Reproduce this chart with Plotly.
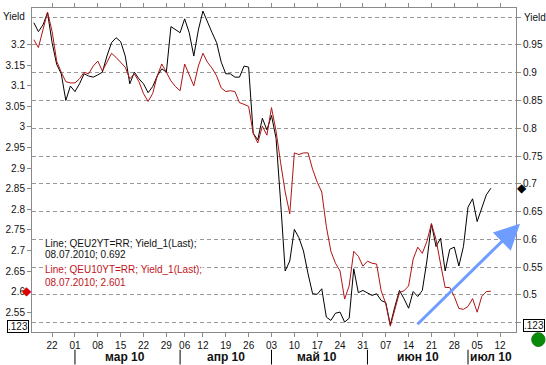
import pandas as pd
import plotly.graph_objects as go

# ---------------- data ----------------
holidays = ["2010-04-02", "2010-04-05"]
dates = [d.strftime("%Y-%m-%d") for d in pd.bdate_range("2010-02-16", "2010-07-08")
         if d.strftime("%Y-%m-%d") not in holidays]

# QEU2YT=RR (right axis, black)
yield_2y = [0.990, 0.974, 0.986, 1.008, 0.954, 0.915, 0.898, 0.850, 0.876, 0.866,
            0.880, 0.898, 0.894, 0.892, 0.896, 0.901, 0.930, 0.954, 0.963, 0.956,
            0.930, 0.880, 0.901, 0.889, 0.880, 0.864, 0.875, 0.894, 0.907, 0.901,
            0.983, 0.977, 0.972, 0.997, 0.972, 0.930, 0.977, 1.011, 0.990, 0.972,
            0.954, 0.919, 0.898, 0.898, 0.892, 0.892, 0.912, 0.910, 0.791, 0.779,
            0.818, 0.797, 0.823, 0.782, 0.667, 0.543, 0.561, 0.618, 0.603, 0.579,
            0.538, 0.502, 0.501, 0.511, 0.460, 0.454, 0.467, 0.469, 0.451, 0.458,
            0.547, 0.504, 0.508, 0.504, 0.499, 0.502, 0.490, 0.486, 0.446, 0.479,
            0.508, 0.493, 0.476, 0.506, 0.497, 0.508, 0.561, 0.628, 0.587, 0.602,
            0.543, 0.582, 0.586, 0.552, 0.587, 0.658, 0.673, 0.632, 0.658, 0.680,
            0.692]

# QEU10YT=RR (left axis, red)
yield_10y = [3.212, 3.193, 3.236, 3.279, 3.232, 3.160, 3.133, 3.110, 3.107, 3.107,
             3.117, 3.133, 3.129, 3.148, 3.160, 3.136, 3.157, 3.179, 3.169, 3.157,
             3.145, 3.117, 3.129, 3.110, 3.081, 3.062, 3.081, 3.124, 3.153, 3.133,
             3.112, 3.098, 3.088, 3.153, 3.124, 3.100, 3.148, 3.179, 3.157, 3.143,
             3.124, 3.095, 3.086, 3.088, 3.086, 3.059, 3.055, 3.050, 2.985, 2.961,
             3.002, 2.980, 3.047, 2.990, 2.913, 2.842, 2.789, 2.937, 2.933, 2.937,
             2.937, 2.897, 2.866, 2.842, 2.758, 2.698, 2.669, 2.650, 2.582, 2.614,
             2.698, 2.686, 2.662, 2.674, 2.669, 2.667, 2.602, 2.571, 2.516, 2.559,
             2.598, 2.602, 2.614, 2.679, 2.708, 2.693, 2.722, 2.765, 2.727, 2.667,
             2.610, 2.610, 2.588, 2.559, 2.557, 2.564, 2.583, 2.550, 2.588, 2.600,
             2.601]

week_ticks = ["2010-02-22", "2010-03-01", "2010-03-08", "2010-03-15", "2010-03-22",
              "2010-03-29", "2010-04-06", "2010-04-12", "2010-04-19", "2010-04-26",
              "2010-05-03", "2010-05-10", "2010-05-17", "2010-05-24", "2010-05-31",
              "2010-06-07", "2010-06-14", "2010-06-21", "2010-06-28", "2010-07-05",
              "2010-07-12"]
week_labels = ["22", "01", "08", "15", "22", "29", "06", "12", "19", "26", "03",
               "10", "17", "24", "31", "07", "14", "21", "28", "05", "12"]

month_starts = ["2010-03-01", "2010-04-01", "2010-05-03", "2010-06-01", "2010-07-01"]
month_labels = ["мар 10", "апр 10", "май 10", "июн 10", "июл 10"]
month_label_at = ["2010-03-16", "2010-04-19", "2010-05-17", "2010-06-16", "2010-07-08"]

left_ticks = [2.55, 2.6, 2.65, 2.7, 2.75, 2.8, 2.85, 2.9, 2.95, 3.0, 3.05, 3.1, 3.15, 3.2]
left_labels = ["2.55", "2.6", "2.65", "2.7", "2.75", "2.8", "2.85", "2.9", "2.95", "3",
               "3.05", "3.1", "3.15", "3.2"]
right_ticks = [0.45, 0.5, 0.55, 0.6, 0.65, 0.7, 0.75, 0.8, 0.85, 0.9, 0.95, 1.0]
right_labels = ["", "0.5", "0.55", "0.6", "0.65", "0.7", "0.75", "0.8", "0.85", "0.9", "0.95", ""]

legend_lines = ["Line; QEU2YT=RR; Yield_1(Last);", "08.07.2010; 0.692",
                "Line; QEU10YT=RR; Yield_1(Last);", "08.07.2010; 2.601"]

# ---------------- style ----------------
RED = "#b01414"
RED_TXT = "#c0141c"
AX = "#8a8a8a"
FONT = "Liberation Sans, Arial, sans-serif"

fig = go.Figure()
fig.add_trace(go.Scatter(x=dates, y=yield_2y, yaxis="y", mode="lines",
                         line=dict(color="black", width=1)))
fig.add_trace(go.Scatter(x=dates, y=yield_10y, yaxis="y2", mode="lines",
                         line=dict(color=RED, width=1)))

W, H = 546, 365
ml, mr, mt, mb = 32, 30, 3, 33
pw, ph = W - ml - mr, H - mt - mb


def px(xp):
    return (xp - ml) / pw


def py(yp):
    return (H - mb - yp) / ph


fig.update_layout(
    width=W, height=H,
    margin=dict(l=ml, r=mr, t=mt, b=mb, pad=0),
    paper_bgcolor="white", plot_bgcolor="white",
    showlegend=False,
    font=dict(family=FONT, size=10, color="#111"),
    xaxis=dict(
        type="date",
        range=["2010-02-15 14:24", "2010-07-15 12:00"],
        rangebreaks=[dict(bounds=["sat", "mon"]), dict(values=holidays)],
        tickmode="array", tickvals=week_ticks, ticktext=week_labels,
        ticks="outside", ticklen=4, tickcolor=AX, tickangle=0,
        showline=True, linecolor=AX, linewidth=1, mirror="allticks",
        showgrid=False, zeroline=False,
        tickfont=dict(size=10, color="#111"),
    ),
    yaxis=dict(
        side="right",
        range=[0.43316, 1.01649],
        tickmode="array", tickvals=right_ticks, ticktext=right_labels,
        ticks="outside", ticklen=4, tickcolor=AX,
        showline=True, linecolor=AX, linewidth=1,
        showgrid=True, gridcolor="#999999", gridwidth=1, griddash="4px,3px",
        zeroline=False,
        tickfont=dict(size=10, color="#111"),
    ),
    yaxis2=dict(
        side="left", overlaying="y",
        range=[2.5019, 3.289],
        tickmode="array", tickvals=left_ticks, ticktext=left_labels,
        ticks="outside", ticklen=4, tickcolor=AX,
        showline=True, linecolor=AX, linewidth=1,
        showgrid=False, zeroline=False,
        tickfont=dict(size=10, color="#111"),
    ),
)

ann = []
# axis headers and boxed ".123"
ann.append(dict(text="Yield", xref="paper", yref="paper", x=px(27), y=py(12),
                xanchor="right", yanchor="middle", showarrow=False))
ann.append(dict(text="Yield", xref="paper", yref="paper", x=px(521.5), y=py(12.5),
                xanchor="left", yanchor="middle", showarrow=False))
ann.append(dict(text=".123", xref="paper", yref="paper", x=px(17.5), y=py(326.3),
                xanchor="center", yanchor="middle", showarrow=False,
                bordercolor="black", borderwidth=1, borderpad=0))
ann.append(dict(text=".123", xref="paper", yref="paper", x=px(533.7), y=py(325.5),
                xanchor="center", yanchor="middle", showarrow=False,
                bordercolor="black", borderwidth=1, borderpad=0))
# last-value markers
ann.append(dict(text="◆", xref="paper", yref="y2", x=px(26.5), y=yield_10y[-1],
                xanchor="center", yanchor="middle", showarrow=False,
                font=dict(size=12, color="#e00000")))
ann.append(dict(text="◆", xref="paper", yref="y", x=px(522), y=yield_2y[-1],
                xanchor="center", yanchor="middle", showarrow=False,
                font=dict(size=12, color="black")))
# legend text
leg_y = [241.7, 253, 269, 281.7]
leg_c = ["#111", "#111", RED_TXT, RED_TXT]
for t, yy, c in zip(legend_lines, leg_y, leg_c):
    ann.append(dict(text=t, xref="paper", yref="paper", x=px(44), y=py(yy),
                    xanchor="left", yanchor="middle", showarrow=False,
                    bgcolor="white", borderpad=0, font=dict(size=10, color=c)))
# month labels
for d, t in zip(month_label_at, month_labels):
    ann.append(dict(text="<b>" + t + "</b>", xref="x", yref="paper", x=d, y=py(357),
                    xanchor="center", yanchor="middle", showarrow=False,
                    font=dict(size=12, color="#111")))
# blue arrow
ann.append(dict(text="", xref="paper", yref="paper", x=px(520), y=py(222),
                ax=-104, ay=102, showarrow=True, arrowhead=2, arrowsize=1.7,
                arrowwidth=3, arrowcolor="#6f9cff", standoff=0))
fig.update_layout(annotations=ann)

shapes = []
for d in month_starts:
    shapes.append(dict(type="line", xref="x", yref="paper", x0=d, x1=d,
                       y0=py(350), y1=py(365), line=dict(color="black", width=1)))
shapes.append(dict(type="circle", xref="paper", yref="paper",
                   x0=px(531.7), x1=px(545), y0=py(346.7), y1=py(332.7),
                   fillcolor="#0a8a0a", line=dict(color="#0a7a0a", width=1)))
fig.update_layout(shapes=shapes)

fig.write_html("out.html", config={"displayModeBar": False},
               post_script="document.body.style.margin='0';document.body.style.padding='0';")
